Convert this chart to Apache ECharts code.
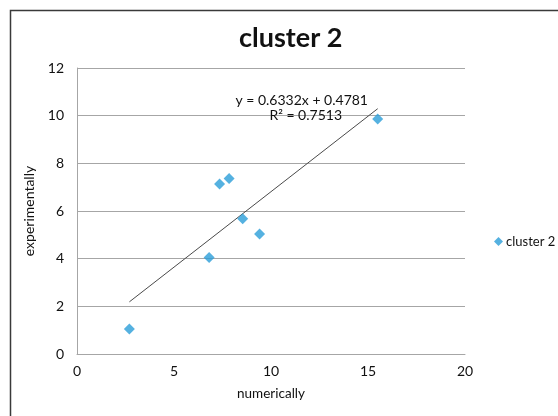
<!DOCTYPE html>
<html>
<head>
<meta charset="utf-8">
<script src="https://cdn.jsdelivr.net/npm/echarts@6/dist/echarts.min.js"></script>
<style>html,body{margin:0;padding:0;background:#fff}#c{width:558px;height:416px}</style>
</head>
<body>
<div id="c"></div>
<script>
var seriesName = 'cluster 2';
var xValues = [2.70, 6.81, 7.35, 7.84, 8.54, 9.41, 15.50];
var yValues = [1.05, 4.05, 7.13, 7.36, 5.68, 5.03, 9.86];
var slope = 0.6332;
var intercept = 0.4781;
var rSquared = 0.7513;
var xTicks = {min: 0, max: 20, interval: 5};
var yTicks = {min: 0, max: 12, interval: 2};

var pts = xValues.map(function (x, i) { return [x, yValues[i]]; });
var xMin = Math.min.apply(null, xValues), xMax = Math.max.apply(null, xValues);
var trend = [[xMin, slope * xMin + intercept], [xMax, slope * xMax + intercept]];

var FONT = 'Lato, "Open Sans", sans-serif';
var chart = echarts.init(document.getElementById('c'), null, {renderer: 'canvas'});
chart.setOption({
  animation: false,
  backgroundColor: '#fff',
  textStyle: {fontFamily: FONT},
  title: {
    text: seriesName, left: 234, top: 20,
    textStyle: {fontFamily: FONT, fontSize: 27, fontWeight: 'bold', color: '#111'}
  },
  legend: {
    left: 489, top: 230, icon: 'diamond', itemWidth: 9, itemHeight: 9, itemGap: 4,
    data: [seriesName],
    textStyle: {fontFamily: FONT, fontSize: 13, color: '#111', padding: [0, 0, 0, -2]}
  },
  grid: {left: 77, right: 93, top: 68, bottom: 62, containLabel: false},
  xAxis: {
    type: 'value', min: xTicks.min, max: xTicks.max, interval: xTicks.interval,
    name: 'numerically', nameLocation: 'middle', nameGap: 33,
    nameTextStyle: {fontFamily: FONT, fontSize: 13.5, color: '#111'},
    axisLine: {show: true, lineStyle: {color: '#a6a6a6', width: 1}},
    axisTick: {show: false},
    splitLine: {show: false},
    axisLabel: {fontFamily: FONT, fontSize: 14, color: '#111', margin: 10}
  },
  yAxis: {
    type: 'value', min: yTicks.min, max: yTicks.max, interval: yTicks.interval,
    name: 'experimentally', nameLocation: 'middle', nameGap: 32,
    nameTextStyle: {fontFamily: FONT, fontSize: 14, color: '#111'},
    axisLine: {show: true, lineStyle: {color: '#a6a6a6', width: 1}},
    axisTick: {show: false},
    splitLine: {show: true, lineStyle: {color: '#a6a6a6', width: 1}},
    axisLabel: {fontFamily: FONT, fontSize: 14, color: '#111', margin: 13}
  },
  series: [
    {
      name: seriesName, type: 'scatter', data: pts, symbol: 'diamond', symbolSize: 11,
      itemStyle: {color: '#2a9ed8'}, z: 3
    },
    {
      name: 'trend', type: 'line', data: trend, symbol: 'none', silent: true,
      lineStyle: {color: '#4a4a4a', width: 1}, z: 2
    }
  ]
});
// place equation texts relative to the plotted trend line end
var endPx = chart.convertToPixel({gridIndex: 0}, trend[1]);
chart.setOption({
  graphic: [
    {type: 'rect', silent: true, shape: {x: 10.5, y: 10.5, width: 700, height: 700},
     style: {fill: 'none', stroke: '#3a3a3a', lineWidth: 1.5}},
    {type: 'text', silent: true, x: endPx[0] - 76, y: endPx[1] - 8,
     style: {text: 'y = ' + slope.toFixed(4) + 'x + ' + intercept.toFixed(4),
             font: '14px ' + FONT, fill: '#111', align: 'center', verticalAlign: 'middle'}},
    {type: 'text', silent: true, x: endPx[0] - 72, y: endPx[1] + 7,
     style: {text: 'R² = ' + rSquared.toFixed(4),
             font: '14px ' + FONT, fill: '#111', align: 'center', verticalAlign: 'middle'}}
  ]
});
</script>
</body>
</html>
